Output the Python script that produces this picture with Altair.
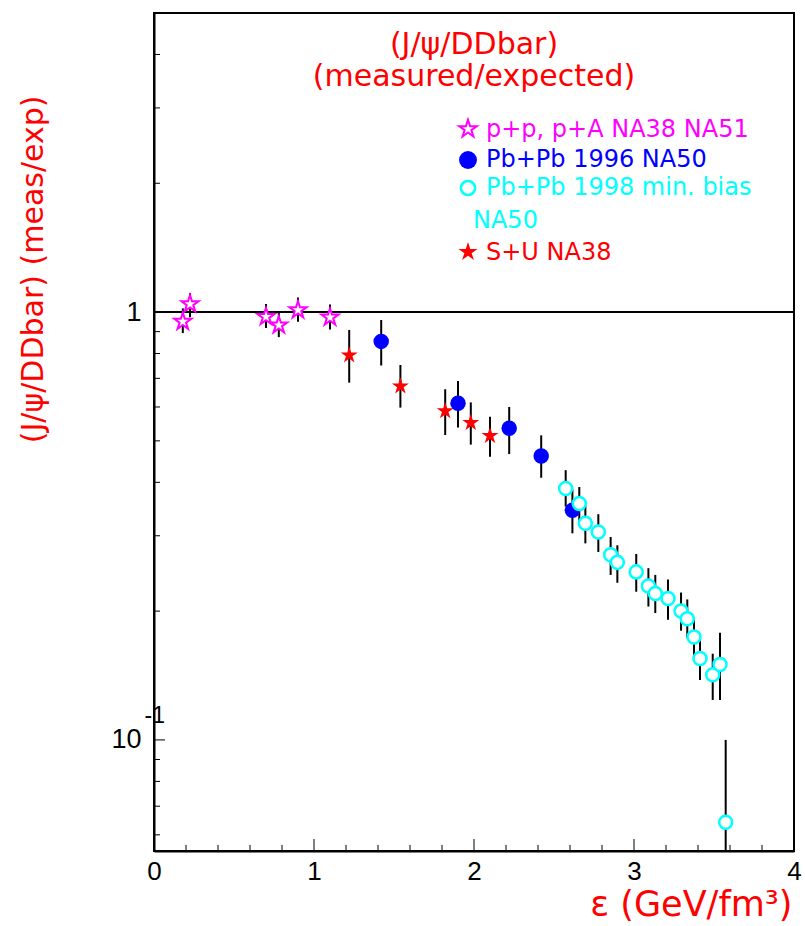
import altair as alt
import pandas as pd

# ---------------- data ----------------
pp_eps = [0.18, 0.225, 0.70, 0.78, 0.90, 1.10]
pp_val = [0.950, 1.044, 0.975, 0.932, 1.011, 0.972]
pp_lo = [0.893, 0.973, 0.918, 0.874, 0.949, 0.911]
pp_hi = [1.020, 1.107, 1.044, 0.996, 1.082, 1.042]

su_eps = [1.22, 1.54, 1.82, 1.98, 2.10]
su_val = [0.793, 0.671, 0.587, 0.551, 0.514]
su_lo = [0.684, 0.598, 0.516, 0.490, 0.459]
su_hi = [0.908, 0.752, 0.660, 0.615, 0.569]

pb96_eps = [1.42, 1.90, 2.22, 2.42, 2.615]
pb96_val = [0.854, 0.612, 0.535, 0.461, 0.344]
pb96_lo = [0.750, 0.537, 0.466, 0.410, 0.304]
pb96_hi = [0.958, 0.690, 0.600, 0.515, 0.385]

pb98_eps = [2.573, 2.658, 2.696, 2.777, 2.854, 2.896, 3.014, 3.090, 3.133,
            3.2125, 3.294, 3.333, 3.375, 3.4125, 3.492, 3.5375, 3.573]
pb98_val = [0.387, 0.357, 0.321, 0.306, 0.271, 0.260, 0.247, 0.229, 0.220,
            0.214, 0.200, 0.192, 0.174, 0.155, 0.142, 0.150, 0.0642]
pb98_lo = [0.351, 0.318, 0.288, 0.275, 0.243, 0.233, 0.222, 0.205, 0.198,
           0.191, 0.180, 0.173, 0.157, 0.138, 0.124, 0.124, 0.030]
pb98_hi = [0.427, 0.390, 0.354, 0.337, 0.298, 0.285, 0.272, 0.252, 0.243,
           0.237, 0.221, 0.213, 0.191, 0.172, 0.159, 0.178, 0.100]

legend_labels = ["p+p, p+A NA38 NA51", "Pb+Pb 1996 NA50",
                 "Pb+Pb 1998 min. bias", "NA50", "S+U NA38"]
legend_colors = ["#ff00ff", "#0000ff", "#00ffff", "#00ffff", "#ff0000"]
title_lines = ["(J/\u03c8/DDbar)", "(measured/expected)"]
x_title = "\u03b5 (GeV/fm\u00b3)"
y_title = "(J/\u03c8/DDbar) (meas/exp)"

x_major = [0, 1, 2, 3, 4]
x_minor = [0.2, 0.4, 0.6, 0.8, 1.2, 1.4, 1.6, 1.8, 2.2, 2.4, 2.6, 2.8,
           3.2, 3.4, 3.6, 3.8]
y_major = [0.1, 1]
y_minor = [0.06, 0.07, 0.08, 0.09, 0.2, 0.3, 0.4, 0.5, 0.6, 0.7, 0.8, 0.9,
           2, 3, 4, 5]

# five-pointed star symbol (unit box)
STAR = ("M0,-1L0.2245,-0.309L0.9511,-0.309L0.3633,0.118L0.5878,0.809L0,0.382"
        "L-0.5878,0.809L-0.3633,0.118L-0.9511,-0.309L-0.2245,-0.309Z")

# ---------------- build tables ----------------
def table(eps, val, lo, hi, name):
    return pd.DataFrame({"eps": eps, "val": val, "lo": lo, "hi": hi, "series": name})

pp = table(pp_eps, pp_val, pp_lo, pp_hi, "pp")
su = table(su_eps, su_val, su_lo, su_hi, "SU")
pb96 = table(pb96_eps, pb96_val, pb96_lo, pb96_hi, "Pb96")
pb98 = table(pb98_eps, pb98_val, pb98_lo, pb98_hi, "Pb98")
alldata = pd.concat([pp, su, pb96, pb98], ignore_index=True)

W, H = 640, 838
RED = "#ff0000"
FONT = "DejaVu Sans"
NUMFONT = "Liberation Sans"

xs = alt.Scale(domain=[0, 4], nice=False, zero=False)
ys = alt.Scale(type="log", domain=[0.055, 5.0], nice=False, clamp=True)

# error bars carry the main axes
errbars = alt.Chart(alldata).mark_rule(color="black", strokeWidth=2).encode(
    x=alt.X("eps:Q", scale=xs, axis=alt.Axis(
        orient="bottom", values=x_major, format="d", ticks=False, grid=False,
        labelFont=NUMFONT, labelFontSize=26, labelColor="black", labelPadding=7,
        labelFlush=False, labelOverlap=False, domainColor="black", domainWidth=2,
        title=x_title, titleFont=FONT, titleFontSize=35, titleColor=RED,
        titleFontWeight="normal", titleAlign="right", titleAnchor="end",
        titleX=W - 2, titleY=64, titleBaseline="alphabetic")),
    y=alt.Y("lo:Q", scale=ys, axis=alt.Axis(
        orient="left", values=y_major, ticks=False, grid=False,
        labelExpr="datum.value == 1 ? '1' : '10\u00a0'",
        labelFont=NUMFONT, labelFontSize=27, labelColor="black", labelPadding=13,
        labelOverlap=False, domainColor="black", domainWidth=2,
        title=y_title, titleFont=FONT, titleFontSize=30, titleColor=RED,
        titleFontWeight="normal", titleAngle=270, titleAlign="right",
        titleX=-121, titleY=82, titleBaseline="middle")),
    y2="hi:Q",
)

one_line = alt.Chart(pd.DataFrame({"v": [1.0]})).mark_rule(color="black", strokeWidth=2).encode(
    y=alt.Y("v:Q", scale=ys, axis=None))

def pts(df, **kw):
    return alt.Chart(df).mark_point(opacity=1, **kw).encode(
        x=alt.X("eps:Q", scale=xs, axis=None),
        y=alt.Y("val:Q", scale=ys, axis=None))

p_pp = pts(pp, shape=STAR, filled=True, fill="white", stroke="#ff00ff", strokeWidth=2, size=320)
p_su = pts(su, shape=STAR, filled=True, color=RED, size=320)
p_pb96 = pts(pb96, shape="circle", filled=True, color="#0000ff", size=240)
p_pb98 = pts(pb98, shape="circle", filled=True, fill="white", stroke="#00ffff", strokeWidth=2.5, size=170)

# inward ticks
def xticks(vals, ln):
    return alt.Chart(pd.DataFrame({"v": vals})).mark_rule(color="black", strokeWidth=1).encode(
        x=alt.X("v:Q", scale=xs, axis=None), y=alt.value(H), y2=alt.value(H - ln))

def yticks(vals, ln, axis=None):
    return alt.Chart(pd.DataFrame({"v": vals})).mark_rule(color="black", strokeWidth=1).encode(
        y=alt.Y("v:Q", scale=ys, axis=axis), x=alt.value(0), x2=alt.value(ln))

exp_axis = alt.Axis(orient="left", values=[0.1], labelExpr="'-1'", ticks=False, grid=False,
                    domain=False, labelAlign="left", labelPadding=10, labelOffset=-24,
                    labelFont=NUMFONT, labelFontSize=23, labelColor="black",
                    labelOverlap=False, title=None)

tick_layers = [xticks(x_major, 12), xticks(x_minor, 6),
               yticks(y_major, 11, exp_axis), yticks(y_minor, 6)]

# texts
def txt(s, x, y, color, size, align="center"):
    return alt.Chart(pd.DataFrame({"t": [s]})).mark_text(
        font=FONT, fontSize=size, color=color, align=align, baseline="alphabetic").encode(
        text="t:N", x=alt.value(x), y=alt.value(y))

title_layers = [txt(title_lines[0], W / 2, 41, RED, 30),
                txt(title_lines[1], W / 2, 73, RED, 30)]

leg_text_x = [332, 332, 332, 319, 332]
leg_text_y = [124, 154, 182, 215, 247]
legend_layers = [txt(legend_labels[i], leg_text_x[i], leg_text_y[i], legend_colors[i], 24, "left")
                 for i in range(5)]

def legsym(y, **kw):
    return alt.Chart(pd.DataFrame({"d": [0]})).mark_point(opacity=1, **kw).encode(
        x=alt.value(314), y=alt.value(y))

legend_syms = [
    legsym(116, shape=STAR, filled=True, fill="white", stroke="#ff00ff", strokeWidth=2, size=340),
    legsym(147, shape="circle", filled=True, color="#0000ff", size=320),
    legsym(175, shape="circle", filled=True, fill="white", stroke="#00ffff", strokeWidth=2.5, size=200),
    legsym(239, shape=STAR, filled=True, color=RED, size=400),
]

chart = alt.layer(
    errbars, one_line, *tick_layers, p_su, p_pb96, p_pp, p_pb98,
    *title_layers, *legend_layers, *legend_syms
).resolve_axis(y="independent", x="independent").properties(
    width=W, height=H,
    autosize=alt.AutoSizeParams(type="none"),
    padding={"left": 154, "top": 13, "right": 11, "bottom": 75},
    background="white",
).configure_view(stroke="black", strokeWidth=2)

chart.save("out.html", embed_options={"renderer": "svg", "actions": False})
